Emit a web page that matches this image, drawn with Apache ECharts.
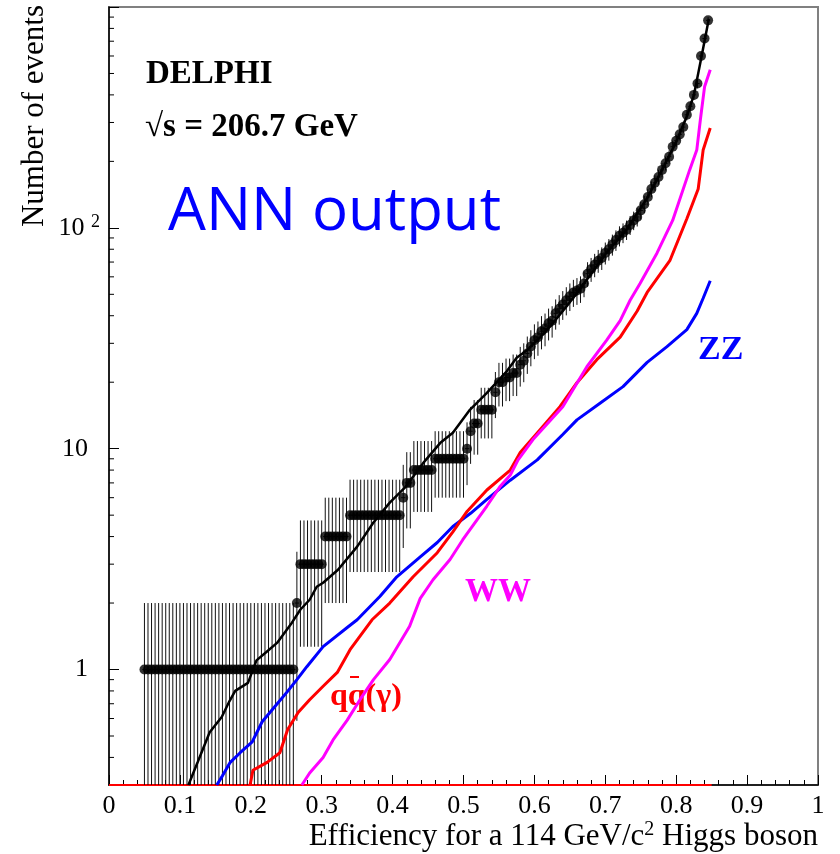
<!DOCTYPE html>
<html><head><meta charset="utf-8">
<script src="https://cdn.jsdelivr.net/npm/echarts@6/dist/echarts.min.js"></script>
<style>html,body{margin:0;padding:0;background:#fff}#c{width:840px;height:854px}</style>
</head><body><div id="c"></div>
<script>
// Observed data: efficiency (x) and number of events (y)
const effObs = [
0.050,0.055,0.060,0.065,0.070,0.075,0.080,0.085,0.090,0.095,
0.100,0.105,0.110,0.115,0.120,0.125,0.130,0.135,0.140,0.145,
0.150,0.155,0.160,0.165,0.170,0.175,0.180,0.185,0.190,0.195,
0.200,0.205,0.210,0.215,0.220,0.225,0.230,0.235,0.240,0.245,
0.250,0.255,0.260,0.265,0.270,0.275,0.280,0.285,0.290,0.295,
0.300,0.305,0.310,0.315,0.320,0.325,0.330,0.335,0.340,0.345,
0.350,0.355,0.360,0.365,0.370,0.375,0.380,0.385,0.390,0.395,
0.400,0.405,0.410,0.415,0.420,0.425,0.430,0.435,0.440,0.445,
0.450,0.455,0.460,0.465,0.470,0.475,0.480,0.485,0.490,0.495,
0.500,0.505,0.510,0.515,0.520,0.525,0.530,0.535,0.540,0.545,
0.550,0.555,0.560,0.565,0.570,0.575,0.580,0.585,0.590,0.595,
0.600,0.605,0.610,0.615,0.620,0.625,0.630,0.635,0.640,0.645,
0.650,0.655,0.660,0.665,0.670,0.675,0.680,0.685,0.690,0.695,
0.700,0.705,0.710,0.715,0.720,0.725,0.730,0.735,0.740,0.745,
0.750,0.755,0.760,0.765,0.770,0.775,0.780,0.785,0.790,0.795,
0.800,0.805,0.810,0.815,0.820,0.825,0.830,0.835,0.840,0.845
];
const nObs = [
1,1,1,1,1,1,1,1,1,1,
1,1,1,1,1,1,1,1,1,1,
1,1,1,1,1,1,1,1,1,1,
1,1,1,1,1,1,1,1,1,1,
1,1,1,2,3,3,3,3,3,3,
3,4,4,4,4,4,4,4,5,5,
5,5,5,5,5,5,5,5,5,5,
5,5,5,6,7,7,8,8,8,8,
8,8,9,9,9,9,9,9,9,9,
9,10,12,13,13,15,15,15,15,18,
20,20,21,21,22,22,24,25,27,29,
31,32,34,35,37,38,41,43,45,47,
49,51,52,53,56,62,65,68,71,73,
77,80,84,88,92,95,98,103,108,112,
120,128,138,150,160,170,183,196,210,233,
248,265,286,325,355,400,450,600,720,870
];
// Total simulation (black line)
const totalMC = [[0.112,0.3],[0.125,0.38],[0.142,0.52],[0.159,0.61],[0.170,0.72],[0.178,0.80],[0.196,0.87],[0.208,1.1],[0.222,1.2],[0.237,1.32],[0.258,1.63],[0.270,1.87],[0.283,2.07],[0.293,2.37],[0.302,2.47],[0.323,2.83],[0.350,3.6],[0.373,4.63],[0.396,5.7],[0.418,6.7],[0.443,8.6],[0.467,10.6],[0.485,11.8],[0.509,15],[0.533,17.9],[0.561,22.4],[0.575,25.8],[0.590,28],[0.608,31.9],[0.626,37],[0.647,44.7],[0.670,56],[0.700,76],[0.730,98],[0.760,138],[0.780,183],[0.800,245],[0.815,320],[0.825,400],[0.835,580],[0.846,883]];
// ZZ background (blue)
const zzMC = [[0.152,0.3],[0.160,0.33],[0.171,0.38],[0.185,0.42],[0.202,0.47],[0.216,0.58],[0.234,0.68],[0.251,0.79],[0.265,0.90],[0.279,1.03],[0.302,1.27],[0.336,1.55],[0.350,1.68],[0.382,2.14],[0.406,2.63],[0.439,3.24],[0.463,3.76],[0.485,4.44],[0.510,5.1],[0.533,5.9],[0.566,7.2],[0.604,8.9],[0.640,11.6],[0.660,13.5],[0.693,16.1],[0.725,19.1],[0.759,24.6],[0.787,29],[0.815,34.6],[0.829,41],[0.838,48],[0.848,57.6]];
// qq(gamma) background (red)
const qqMC = [[0.199,0.3],[0.203,0.35],[0.223,0.38],[0.241,0.42],[0.252,0.535],[0.267,0.64],[0.283,0.73],[0.302,0.84],[0.322,0.97],[0.340,1.23],[0.371,1.68],[0.396,2.0],[0.429,2.63],[0.463,3.38],[0.485,4.2],[0.505,5.2],[0.533,6.5],[0.566,8.0],[0.580,9.6],[0.608,12.2],[0.636,15.5],[0.660,19.9],[0.688,25.3],[0.721,32],[0.745,42],[0.759,51],[0.791,71],[0.815,110],[0.831,150],[0.838,225],[0.848,283]];
// WW background (magenta)
const wwMC = [[0.272,0.3],[0.283,0.34],[0.302,0.40],[0.316,0.48],[0.336,0.59],[0.354,0.73],[0.373,0.90],[0.396,1.11],[0.424,1.57],[0.439,2.1],[0.457,2.55],[0.481,3.15],[0.499,3.87],[0.533,5.5],[0.551,6.7],[0.566,7.6],[0.577,8.9],[0.598,11],[0.640,15.5],[0.674,23.5],[0.702,31],[0.721,38],[0.735,47],[0.749,56],[0.773,77],[0.795,108],[0.819,183],[0.829,225],[0.834,307],[0.840,435],[0.848,520]];
// floor of the simulated curves (drawn along the x axis)
const floorX = [0, 0.85];
const yMin = 0.3, yMax = 1000;
const yMinorTicks = [0.4,0.5,0.6,0.7,0.8,0.9,2,3,4,5,6,7,8,9,20,30,40,50,60,70,80,90,200,300,400,500,600,700,800,900];

const serif = 'Liberation Serif';
const chart = echarts.init(document.getElementById('c'), null, {renderer:'canvas'});
const obsPts = effObs.map((x,i)=>[x, nObs[i]]);

chart.setOption({
  animation:false,
  backgroundColor:'#fff',
  grid:{left:109,right:22,top:7,bottom:69,show:true,borderColor:'#808080',borderWidth:2,backgroundColor:'transparent'},
  xAxis:{type:'value',min:0,max:1,interval:0.1,
    axisLine:{lineStyle:{color:'#000',width:1.5}},
    axisTick:{inside:true,length:10,lineStyle:{color:'#000',width:1}},
    minorTick:{show:true,splitNumber:5,length:5,lineStyle:{color:'#000',width:1}},
    splitLine:{show:false},
    axisLabel:{margin:8,color:'#000',fontFamily:serif,fontSize:26,
      formatter:v=>String(Math.round(v*10)/10)}
  },
  yAxis:{type:'log',logBase:10,min:yMin,max:yMax,
    axisLine:{lineStyle:{color:'#000',width:1.5}},
    axisTick:{inside:true,length:10,lineStyle:{color:'#000',width:1}},
    splitLine:{show:false},
    axisLabel:{margin:9,color:'#000',fontFamily:serif,fontSize:26,showMinLabel:true,showMaxLabel:true,
      formatter:function(v){const l=Math.log10(v);const r=Math.round(l);if(Math.abs(l-r)>1e-6)return '';
        if(r===0)return '{p|1}'; if(r===1)return '{p|10}'; if(r===2)return '{n|10 }{sup|2}'; return '';},
      rich:{p:{fontFamily:serif,fontSize:26,color:'#000',padding:[0,12,0,0]},
            n:{fontFamily:serif,fontSize:26,color:'#000'},
            sup:{fontFamily:serif,fontSize:18,color:'#000',padding:[0,0,12,0]}}
    }
  },
  series:[
    {type:'line',data:floorX.map(x=>[x,yMin]),symbol:'none',lineStyle:{color:'#ff0000',width:2},clip:false,z:1},
    {type:'custom',clip:false,data:yMinorTicks.map(v=>[0,v]),z:5,
      renderItem:function(params,api){const p=api.coord([0,api.value(1)]);
        return {type:'line',shape:{x1:p[0],y1:p[1],x2:p[0]+5,y2:p[1]},style:{stroke:'#000',lineWidth:1}};}},
    {type:'custom',clip:true,data:obsPts,z:2,
      renderItem:function(params,api){const x=api.value(0),n=api.value(1);const e=Math.sqrt(n);
        const lo=Math.max(n-e,yMin);const hi=Math.min(n+e,yMax);
        const a=api.coord([x,lo]),b=api.coord([x,hi]);
        const c=api.coord([x-0.003,n]),d=api.coord([x+0.003,n]);
        return {type:'group',children:[
          {type:'line',shape:{x1:a[0],y1:a[1],x2:b[0],y2:b[1]},style:{stroke:'#111',lineWidth:1}},
          {type:'line',shape:{x1:c[0],y1:c[1],x2:d[0],y2:d[1]},style:{stroke:'#111',lineWidth:1}}
        ]};}},
    {type:'scatter',data:obsPts,symbol:'circle',symbolSize:10,itemStyle:{color:'#000'},z:3},
    {type:'line',data:zzMC,symbol:'none',lineStyle:{color:'#0000ff',width:3},clip:true,z:4},
    {type:'line',data:qqMC,symbol:'none',lineStyle:{color:'#ff0000',width:3},clip:true,z:4},
    {type:'line',data:wwMC,symbol:'none',lineStyle:{color:'#ff00ff',width:3},clip:true,z:4},
    {type:'line',data:totalMC,symbol:'none',lineStyle:{color:'#000',width:2.5},clip:true,z:4}
  ],
  graphic:[
    {type:'text',x:35,y:5,rotation:Math.PI/2,style:{text:'Number of events',font:'31px "Liberation Serif"',fill:'#000',align:'right',verticalAlign:'middle'}},
    {type:'text',x:818,y:837,style:{text:'{n|Efficiency for a 114 GeV/c}{s|2}{n| Higgs boson}',align:'right',verticalAlign:'middle',
      rich:{n:{fontFamily:serif,fontSize:31,fill:'#000'},s:{fontFamily:serif,fontSize:20,fill:'#000',padding:[0,0,14,0]}}}},
    {type:'text',x:146,y:74,style:{text:'DELPHI',font:'bold 33px "Liberation Serif"',fill:'#000',verticalAlign:'middle'}},
    {type:'text',x:145,y:127,style:{text:'\u221As = 206.7 GeV',font:'bold 33px "Liberation Serif"',fill:'#000',verticalAlign:'middle'}},
    {type:'text',x:168,y:213,style:{text:'ANN output',font:'60px "Comic Sans MS", "Open Sans", sans-serif',fill:'#0000ff',verticalAlign:'middle'}},
    {type:'text',x:698,y:350,style:{text:'ZZ',font:'bold 34px "Liberation Serif"',fill:'#0000ff',verticalAlign:'middle'}},
    {type:'text',x:465,y:592,style:{text:'WW',font:'bold 33px "Liberation Serif"',fill:'#ff00ff',verticalAlign:'middle'}},
    {type:'text',x:330,y:697,style:{text:'qq(\u03B3)',font:'bold 32px "Liberation Serif"',fill:'#ff0000',verticalAlign:'middle'}},
    {type:'line',shape:{x1:350,y1:677,x2:359,y2:677},style:{stroke:'#ff0000',lineWidth:2}}
  ]
});
</script></body></html>
